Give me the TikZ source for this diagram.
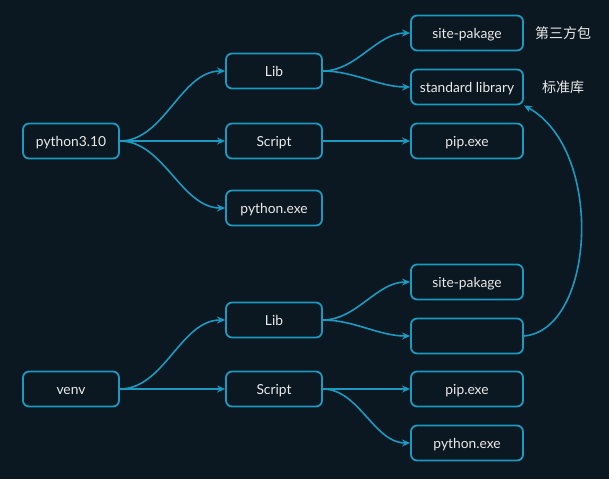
\documentclass[tikz,border=0pt]{standalone}
\usepackage{fontspec}
\setmainfont{Lato}
\newfontfamily\cjk{Noto Sans CJK SC}
\usetikzlibrary{arrows.meta}
\definecolor{bgc}{HTML}{0C1821}
\definecolor{edgec}{HTML}{1A9AC0}
\definecolor{txtc}{HTML}{EAEAEA}
\begin{document}
\begin{tikzpicture}[x=1pt,y=-1pt,
  box/.style={draw=edgec, line width=1.8pt, rounded corners=6pt, fill=bgc,
    text=txtc, font=\fontsize{13.8}{16}\selectfont, inner sep=0pt, minimum height=35pt,
    text depth=0pt, text height=10pt},
  boxa/.style={box, minimum width=96pt},
  boxb/.style={box, minimum width=112pt},
  lbl/.style={text=txtc, font=\cjk\fontsize{14}{16}\selectfont},
  conn/.style={draw=edgec, line width=1.6pt, -{Stealth[length=8pt,width=7pt]}},
  sig/.style={conn, out=0, in=180, looseness=0.9}]
\fill[bgc] (0,0) rectangle (609,479);
\useasboundingbox (0,0) rectangle (609,479);
% top tree
\node[boxa] (py) at (71,141) {python3.10};
\node[boxa] (lib1) at (274,71) {Lib};
\node[boxa] (scr1) at (274,141) {Script};
\node[boxa] (pyexe1) at (274,208) {python.exe};
\node[boxb] (site1) at (467,33) {site-pakage};
\node[boxb] (std) at (467,87) {standard library};
\node[boxb] (pip1) at (467,141) {pip.exe};
\node[lbl] (l1) at (563,33) {第三方包};
\node[lbl] (l2) at (563,87) {标准库};
% bottom tree
\node[boxa] (venv) at (71,389) {venv};
\node[boxa] (lib2) at (274,320) {Lib};
\node[boxa] (scr2) at (274,389) {Script};
\node[boxb] (site2) at (467,282) {site-pakage};
\node[boxb] (empty) at (467,336) {};
\node[boxb] (pip2) at (467,389) {pip.exe};
\node[boxb] (pyexe2) at (467,443) {python.exe};
% connectors
\draw[sig] (py.east) to (lib1.west);
\draw[conn] (py.east) -- (scr1.west);
\draw[sig] (py.east) to (pyexe1.west);
\draw[sig] (lib1.east) to (site1.west);
\draw[sig] (lib1.east) to (std.west);
\draw[conn] (scr1.east) -- (pip1.west);
\draw[sig] (venv.east) to (lib2.west);
\draw[conn] (venv.east) -- (scr2.west);
\draw[sig] (lib2.east) to (site2.west);
\draw[sig] (lib2.east) to (empty.west);
\draw[conn] (scr2.east) -- (pip2.west);
\draw[sig] (scr2.east) to (pyexe2.west);
\draw[conn] (empty.east) .. controls (595,330) and (605,150) .. (std.south east);
\end{tikzpicture}
\end{document}
